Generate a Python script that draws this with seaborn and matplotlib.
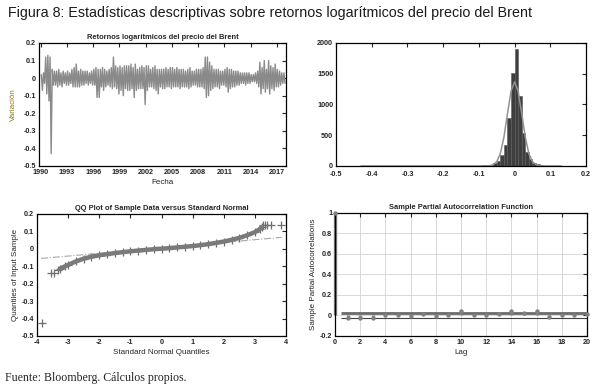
import numpy as np
import pandas as pd
import seaborn as sns
import matplotlib.pyplot as plt
from matplotlib.ticker import FuncFormatter

# Quarterly highs / lows of the daily Brent log returns (1990Q1 .. 2017Q4)
first_year = 1990
ret_high = [0.02, 0.03, 0.12, 0.13,  0.12, 0.05, 0.04, 0.04,  0.05, 0.03, 0.04, 0.03,
            0.04, 0.03, 0.05, 0.06,  0.08, 0.04, 0.05, 0.04,  0.04, 0.04, 0.03, 0.04,
            0.05, 0.06, 0.05, 0.05,  0.06, 0.05, 0.04, 0.05,  0.06, 0.12, 0.07, 0.06,
            0.07, 0.06, 0.07, 0.07,  0.07, 0.08, 0.06, 0.08,  0.05, 0.06, 0.07, 0.06,
            0.07, 0.07, 0.05, 0.06,  0.07, 0.05, 0.05, 0.05,  0.05, 0.06, 0.05, 0.06,
            0.06, 0.05, 0.06, 0.05,  0.05, 0.05, 0.04, 0.05,  0.06, 0.04, 0.04, 0.05,
            0.05, 0.05, 0.06, 0.12,  0.12, 0.09, 0.07, 0.05,  0.05, 0.05, 0.04, 0.04,
            0.05, 0.06, 0.05, 0.05,  0.04, 0.04, 0.04, 0.03,  0.03, 0.03, 0.03, 0.03,
            0.02, 0.02, 0.03, 0.04,  0.09, 0.06, 0.10, 0.05,  0.10, 0.07, 0.06, 0.08,
            0.05, 0.04, 0.03, 0.03]
ret_low = [-0.07, -0.03, -0.09, -0.13,  -0.43, -0.04, -0.04, -0.05,  -0.04, -0.05, -0.03, -0.04,
           -0.04, -0.03, -0.05, -0.05,  -0.05, -0.05, -0.04, -0.04,  -0.03, -0.04, -0.03, -0.04,
           -0.04, -0.11, -0.11, -0.05,  -0.07, -0.05, -0.04, -0.05,  -0.06, -0.05, -0.06, -0.09,
           -0.07, -0.10, -0.06, -0.07,  -0.07, -0.06, -0.11, -0.07,  -0.06, -0.06, -0.06, -0.15,
           -0.07, -0.05, -0.05, -0.06,  -0.07, -0.09, -0.05, -0.06,  -0.06, -0.05, -0.05, -0.06,
           -0.05, -0.05, -0.05, -0.06,  -0.05, -0.05, -0.05, -0.06,  -0.05, -0.04, -0.04, -0.05,
           -0.05, -0.05, -0.06, -0.11,  -0.10, -0.07, -0.06, -0.05,  -0.05, -0.06, -0.04, -0.04,
           -0.05, -0.08, -0.06, -0.05,  -0.05, -0.04, -0.04, -0.03,  -0.03, -0.04, -0.03, -0.03,
           -0.02, -0.02, -0.03, -0.05,  -0.09, -0.06, -0.08, -0.06,  -0.09, -0.06, -0.07, -0.05,
           -0.05, -0.04, -0.03, -0.03]
year_ticks = [1990, 1993, 1996, 1999, 2002, 2005, 2008, 2011, 2014, 2017]

# histogram (bin left edge, count) and fitted normal curve
hist_left = [-0.10, -0.09, -0.08, -0.07, -0.06, -0.05, -0.04, -0.03, -0.02, -0.01,
             0.00, 0.01, 0.02, 0.03, 0.04, 0.05, 0.06, 0.07, 0.08, 0.09]
hist_count = [5, 8, 12, 22, 45, 80, 175, 340, 775, 1510,
              1910, 1130, 530, 230, 110, 55, 25, 12, 6, 3]
bin_width = 0.01
fit_x = [-0.43, -0.08, -0.07, -0.06, -0.05, -0.04, -0.03, -0.02, -0.01, 0.0,
         0.01, 0.02, 0.03, 0.04, 0.05, 0.06, 0.07, 0.08, 0.13]
fit_y = [0, 0, 5, 20, 70, 200, 465, 850, 1215, 1370,
         1215, 850, 465, 200, 70, 20, 5, 0, 0]

# QQ plot
qq_x = [-3.27, -3.1, -3.0, -2.75, -2.5, -2.25, -2.0, -1.75, -1.5, -1.25, -1.0, -0.75, -0.5,
        -0.25, 0.0, 0.25, 0.5, 0.75, 1.0, 1.25, 1.5, 1.75, 2.0, 2.25, 2.5, 2.75, 3.0, 3.15, 3.22]
qq_y = [-0.115, -0.100, -0.092, -0.072, -0.056, -0.045, -0.037, -0.031, -0.024, -0.019, -0.014,
        -0.010, -0.006, -0.002, 0.001, 0.004, 0.008, 0.012, 0.016, 0.021, 0.027, 0.034, 0.042,
        0.052, 0.063, 0.078, 0.096, 0.112, 0.125]
qq_tail_x = [-3.84, -3.55, -3.44, -3.32, 3.27, 3.33, 3.40, 3.53, 3.84]
qq_tail_y = [-0.425, -0.141, -0.141, -0.122, 0.135, 0.135, 0.135, 0.135, 0.135]
qq_ref_x = [-3.87, 3.86]
qq_ref_y = [-0.055, 0.066]

# partial autocorrelations
pacf_lag = list(range(21))
pacf_val = [1.0, -0.02, -0.02, -0.02, 0.0, 0.0, -0.007, 0.012, -0.004, 0.006, 0.045,
            0.0, 0.0, 0.012, 0.045, 0.025, 0.039, -0.017, 0.009, 0.0, 0.019]
pacf_bound = [0.02, -0.022]

sns.set_theme(style="white")
plt.rcParams['font.family'] = ['Liberation Sans', 'DejaVu Sans']

GRAY = "#8a8a8a"
TICK_KW = dict(labelsize=5.2, direction="in", top=True, right=True, length=3, width=0.8, pad=2)


def tick_fmt(v, p):
    v = round(v, 6)
    return "0" if v == 0 else f"{v:g}"


def style_axes(ax):
    for s in ax.spines.values():
        s.set_color("black")
        s.set_linewidth(0.9)
    ax.tick_params(**TICK_KW)
    ax.xaxis.set_major_formatter(FuncFormatter(tick_fmt))
    ax.yaxis.set_major_formatter(FuncFormatter(tick_fmt))
    for lab in ax.get_xticklabels() + ax.get_yticklabels():
        lab.set_fontweight("bold")


fig = plt.figure(figsize=(5.94, 3.9), dpi=100)
ax_ts = fig.add_axes([0.0657, 0.5744, 0.4158, 0.3154])
ax_h = fig.add_axes([0.5657, 0.5744, 0.4209, 0.3154])
ax_qq = fig.add_axes([0.0623, 0.1385, 0.4192, 0.3128])
ax_p = fig.add_axes([0.564, 0.1385, 0.4242, 0.3154])

# --- returns series: zigzag through quarterly highs and lows
rows = []
for i, (hi, lo) in enumerate(zip(ret_high, ret_low)):
    t = first_year + i / 4
    rows.append((t + 0.0625, hi))
    rows.append((t + 0.1875, lo))
ts = pd.DataFrame(rows, columns=["Fecha", "Variación"])
sns.lineplot(data=ts, x="Fecha", y="Variación", ax=ax_ts, color=GRAY, lw=1.0,
             estimator=None, sort=False)
ax_ts.set_xlim(1989.8, 2018.05)
ax_ts.set_ylim(-0.5, 0.2)
ax_ts.set_xticks(year_ticks)
ax_ts.set_yticks(np.arange(-0.5, 0.21, 0.1))
ax_ts.set_title("Retornos logarítmicos del precio del Brent", fontsize=5.4,
                fontweight="bold", pad=3)
ax_ts.set_xlabel("Fecha", fontsize=5.8, labelpad=2)
ax_ts.set_ylabel("Variación", fontsize=5.8, color="#8c7a1e", labelpad=5)
style_axes(ax_ts)

# --- histogram with fitted normal
hist = pd.DataFrame({"centre": np.array(hist_left) + bin_width / 2, "n": hist_count})
sns.histplot(data=hist, x="centre", weights="n",
             bins=list(hist_left) + [hist_left[-1] + bin_width],
             ax=ax_h, color="#3e3e3e", edgecolor="#5a5a5a", linewidth=0.4, alpha=1)
sns.lineplot(x=fit_x, y=fit_y, ax=ax_h, color="#939393", lw=1.1)
ax_h.set_xlim(-0.5, 0.2)
ax_h.set_ylim(0, 2000)
ax_h.set_xticks(np.arange(-0.5, 0.21, 0.1))
ax_h.set_yticks([0, 500, 1000, 1500, 2000])
ax_h.set_xlabel("")
ax_h.set_ylabel("")
style_axes(ax_h)
ax_h.tick_params(axis="x", pad=3.5)

# --- QQ plot
sns.lineplot(x=qq_ref_x, y=qq_ref_y, ax=ax_qq, color="#a8a8a8", lw=0.8, linestyle="-.")
sns.lineplot(x=qq_x, y=qq_y, ax=ax_qq, color="#7a7a7a", lw=3.2, sort=False)
sns.scatterplot(x=qq_x + qq_tail_x, y=qq_y + qq_tail_y, ax=ax_qq, marker="+",
                color="#6e6e6e", s=30, linewidth=0.9)
ax_qq.set_xlim(-4, 4)
ax_qq.set_ylim(-0.5, 0.2)
ax_qq.set_xticks(range(-4, 5))
ax_qq.set_yticks(np.arange(-0.5, 0.21, 0.1))
ax_qq.set_title("QQ Plot of Sample Data versus Standard Normal", fontsize=5.4,
                fontweight="bold", pad=3)
ax_qq.set_xlabel("Standard Normal Quantiles", fontsize=5.8, labelpad=2)
ax_qq.set_ylabel("Quantiles of Input Sample", fontsize=5.8, labelpad=2)
style_axes(ax_qq)

# --- partial autocorrelation
ax_p.set_axisbelow(True)
ax_p.grid(True, color="#d2d2d2", lw=0.6)
ax_p.vlines(pacf_lag, 0, pacf_val, color="#808080", lw=2.4, clip_on=False, zorder=2.5)
sns.scatterplot(x=pacf_lag, y=pacf_val, ax=ax_p, color="#808080", s=10, linewidth=0,
                zorder=3, clip_on=False)
ax_p.hlines(pacf_bound[0], 0.5, 20, color="#6a6a6a", lw=2.0)
ax_p.hlines(pacf_bound[1], 0.5, 20, color="#404040", lw=0.8)
ax_p.set_xlim(0, 20)
ax_p.set_ylim(-0.2, 1)
ax_p.set_xticks(range(0, 21, 2))
ax_p.set_yticks(np.arange(-0.2, 1.01, 0.2))
ax_p.set_title("Sample Partial Autocorrelation Function", fontsize=5.4,
               fontweight="bold", pad=3)
ax_p.set_xlabel("Lag", fontsize=5.8, labelpad=2)
ax_p.set_ylabel("Sample Partial Autocorrelations", fontsize=5.8, labelpad=2)
style_axes(ax_p)

fig.text(0.013, 0.966, "Figura 8: Estadísticas descriptivas sobre retornos logarítmicos del precio del Brent",
         fontsize=10.3, color="#1a1a1a", va="center", ha="left")
fig.text(0.008, 0.03, "Fuente: Bloomberg. Cálculos propios.", fontsize=8.6,
         family=["Liberation Serif", "DejaVu Serif"], va="center", ha="left")

fig.savefig("out.png", dpi=100)
